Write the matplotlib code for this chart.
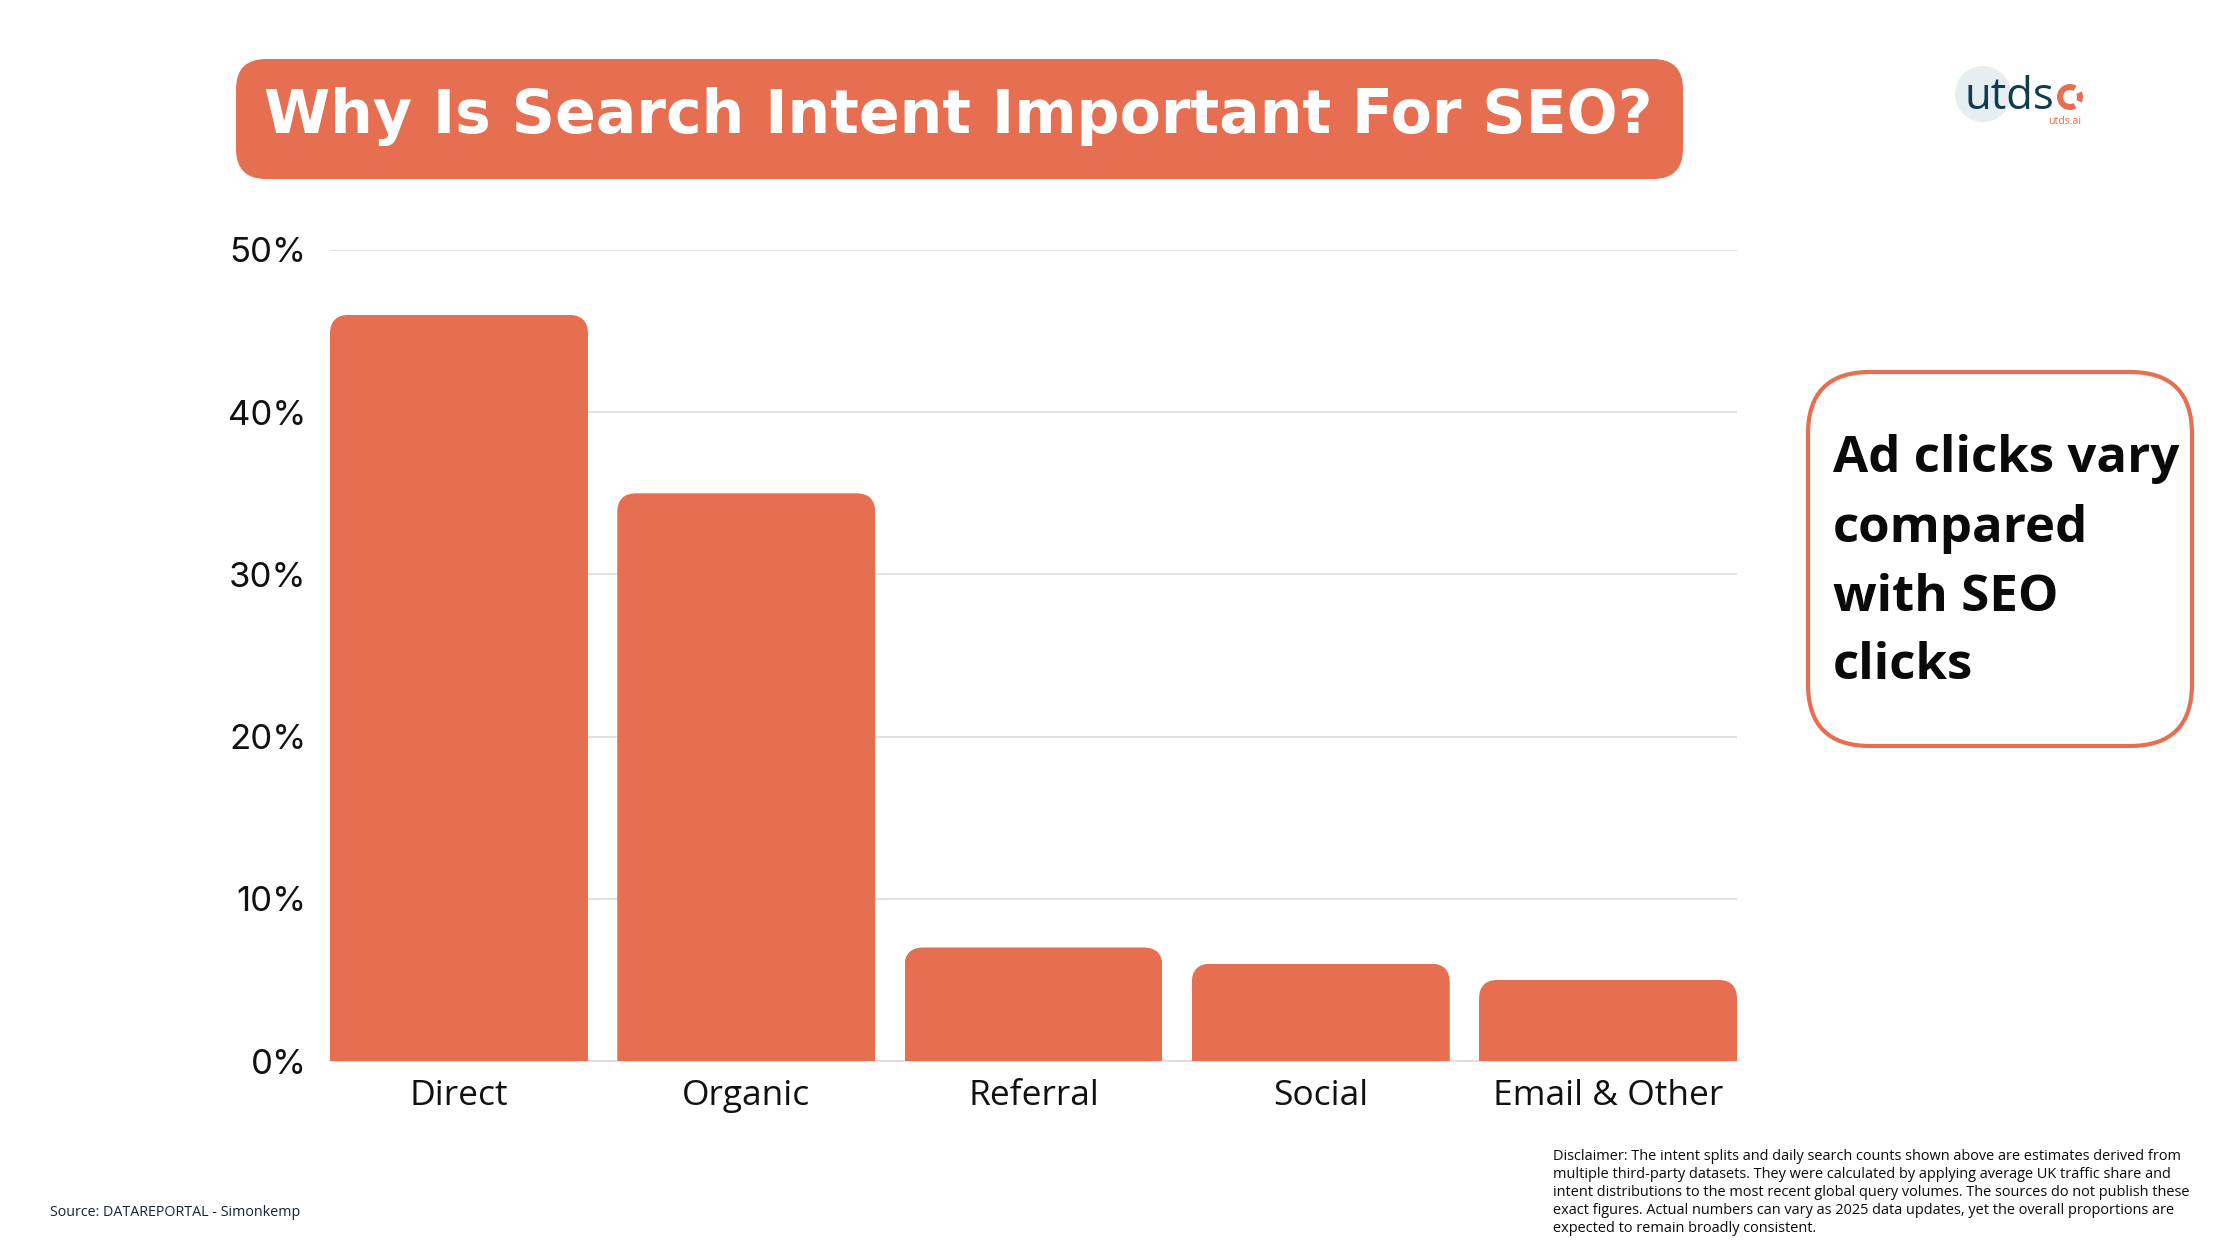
import matplotlib
matplotlib.use("Agg")
import matplotlib.pyplot as plt
from matplotlib.patches import FancyBboxPatch, Circle, Wedge

categories = ["Direct", "Organic", "Referral", "Social", "Email & Other"]
values = [46, 35, 7, 6, 5]
yticks = [0, 10, 20, 30, 40, 50]
title = "Why Is Search Intent Important For SEO?"
callout = ["Ad clicks vary", "compared", "with SEO", "clicks"]
source = "Source: DATAREPORTAL - Simonkemp"
disclaimer = [
    "Disclaimer: The intent splits and daily search counts shown above are estimates derived from",
    "multiple third-party datasets. They were calculated by applying average UK traffic share and",
    "intent distributions to the most recent global query volumes. The sources do not publish these",
    "exact figures. Actual numbers can vary as 2025 data updates, yet the overall proportions are",
    "expected to remain broadly consistent.",
]

ORANGE = "#e76f51"
W, H = 2240, 1260
fig = plt.figure(figsize=(W / 100, H / 100), dpi=100, facecolor="white")

# pixel overlay
ov = fig.add_axes([0, 0, 1, 1], zorder=0)
ov.set_xlim(0, W); ov.set_ylim(H, 0); ov.axis("off")

# chart axes
L, R, T, B = 330, 1737, 250, 1061
ax = fig.add_axes([L / W, 1 - B / H, (R - L) / W, (B - T) / H], zorder=1)
ax.patch.set_alpha(0)
half = 0.449
ax.set_xlim(-half, len(values) - 1 + half)
ax.set_ylim(0, 50)
bars = ax.bar(range(len(values)), values, width=2 * half, color=ORANGE, zorder=3)
unit_x = (R - L) / (len(values) - 1 + 2 * half)
unit_y = (B - T) / 50
for b in bars:
    clip = FancyBboxPatch((b.get_x(), -5), b.get_width(), b.get_height() + 5,
                          boxstyle=f"round,pad=0,rounding_size={19 / unit_x}",
                          mutation_aspect=unit_x / unit_y,
                          transform=ax.transData)
    b.set_clip_path(clip)
ax.set_yticks(yticks)
ax.set_yticklabels([f"{v}%" for v in yticks], fontsize=25, family="Inter", color="#111111")
ax.set_xticks(range(len(values)))
ax.set_xticklabels(categories, fontsize=25.5, family="Open Sans", color="#111111")
ax.tick_params(axis="both", length=0)
ax.tick_params(axis="y", pad=17)
ax.tick_params(axis="x", pad=13)
ax.grid(axis="y", color="#dcdcdc", lw=1.2, zorder=1)
ax.set_axisbelow(True)
for s in ["top", "right", "left"]:
    ax.spines[s].set_visible(False)
ax.spines["bottom"].set_color("#dcdcdc")
ax.spines["bottom"].set_linewidth(1.2)

# title box
ov.add_patch(FancyBboxPatch((236, 59), 1447, 120, boxstyle="round,pad=0,rounding_size=30",
                            fc=ORANGE, ec="none"))
renderer = fig.canvas.get_renderer()

def fit(t, width):
    ext = t.get_window_extent(renderer)
    t.set_fontsize(t.get_fontsize() * width / ext.width)
    return t

fit(ov.text(264, 117, title, color="white", fontsize=50, family="DejaVu Sans", weight="bold",
            ha="left", va="center"), 1390)

# callout box
ov.add_patch(FancyBboxPatch((1808, 372), 384, 374, boxstyle="round,pad=0,rounding_size=62",
                            fc="white", ec=ORANGE, lw=3))
ref = ov.text(1833, 459, callout[0], color="#0a0a0a", fontsize=36, family="Open Sans",
              weight="bold", ha="left", va="center")
fit(ref, 347)
for line, y in zip(callout[1:], [529, 598, 666]):
    ov.text(1833, y, line, color="#0a0a0a", fontsize=ref.get_fontsize(), family="Open Sans",
            weight="bold", ha="left", va="center")

# footer
fit(ov.text(50, 1212, source, color="#14233f", fontsize=10, family="Open Sans",
            ha="left", va="center"), 250)
ref = ov.text(1553, 1156, disclaimer[0], color="#0a0a0a", fontsize=10, family="Open Sans",
              ha="left", va="center")
fit(ref, 629)
for line, y in zip(disclaimer[1:], [1174, 1192, 1210, 1228]):
    ov.text(1553, y, line, color="#0a0a0a", fontsize=ref.get_fontsize(), family="Open Sans",
            ha="left", va="center")

# logo
ov.add_patch(Circle((1983, 94), 28, fc="#e6eef1", ec="none"))
fit(ov.text(1965, 109, "utds", color="#0f3d4c", fontsize=30, family="Open Sans",
            ha="left", va="baseline"), 90)
ov.add_patch(Wedge((2070, 97), 13, 60, 300, width=6, fc=ORANGE, ec="none"))
ov.add_patch(Wedge((2070, 97), 13, -25, 25, width=6, fc=ORANGE, ec="none"))
fit(ov.text(2048, 122, "utds.ai", color=ORANGE, fontsize=9, family="Open Sans",
            ha="left", va="center"), 33)

fig.savefig("out.png", dpi=100, facecolor="white")
